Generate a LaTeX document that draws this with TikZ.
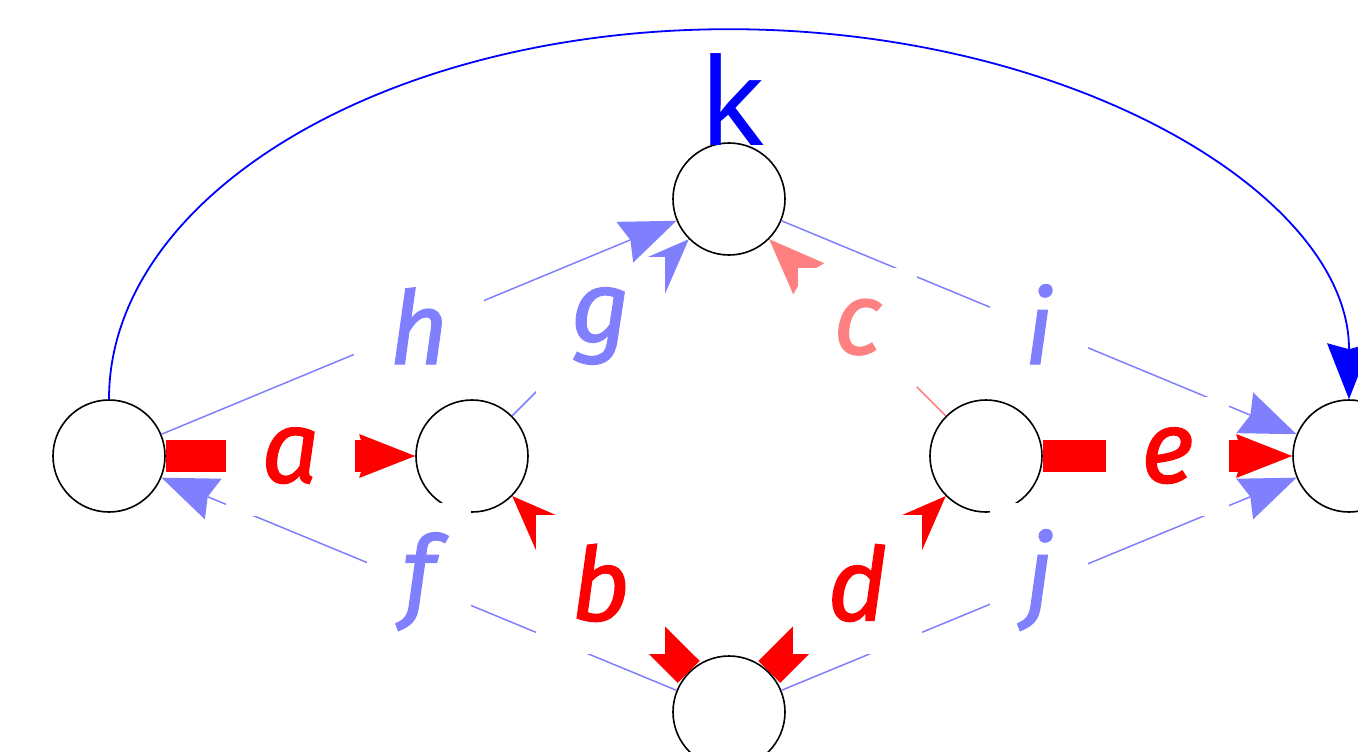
\documentclass[tikz,border=0pt]{standalone}
\usepackage{fontspec}
\setmainfont{Noto Sans}
\newfontfamily\lblfont[FakeBold=1.2]{Fira Sans}
\usetikzlibrary{arrows.meta,calc}
\definecolor{cred}{RGB}{255,0,0}
\definecolor{cpink}{RGB}{255,128,128}
\definecolor{clav}{RGB}{128,128,255}
\definecolor{cblue}{RGB}{0,0,255}
\begin{document}
\begin{tikzpicture}[x=1pt,y=-1pt,
  vtx/.style={circle,draw=black,line width=1.6pt,minimum size=112pt,inner sep=0pt},
  tipstyle/.style={-{Stealth[length=56pt,width=44pt,inset=6pt,line width=0pt]}},
  thinedge/.style={tipstyle,line width=1.5pt},
  fatedge/.style={tipstyle,line width=32pt},
  lbl/.style={fill=white,inner xsep=35pt,inner ysep=33pt,font=\lblfont\fontsize{102}{104}\selectfont\itshape},
  xh/.style={text height=53pt,text depth=0pt},
  asc/.style={text height=73pt,text depth=0pt},
  dsc/.style={text height=53pt,text depth=23pt},
  tall/.style={text height=73pt,text depth=23pt},
]
\useasboundingbox (0,0) rectangle (1358,752);
% vertices
\node[vtx] (L)  at (109,456) {};
\node[vtx] (ML) at (472,456) {};
\node[vtx] (T)  at (729,199) {};
\node[vtx] (MR) at (986,456) {};
\node[vtx] (R)  at (1349,456) {};
\node[vtx] (B)  at (729,712) {};
% edges
\draw[fatedge,cred] (L) -- (ML);
\draw[tipstyle,line width=31pt,cred] (B) -- (ML);
\draw[thinedge,cpink] (MR) -- (T);
\draw[tipstyle,line width=31pt,cred] (B) -- (MR);
\draw[fatedge,cred] (MR) -- (R);
\draw[thinedge,clav] (B) -- (L);
\draw[thinedge,clav] (ML) -- (T);
\draw[thinedge,clav] (T) -- (R);
\draw[thinedge,clav] (B) -- (R);
\draw[tipstyle,cblue,line width=1.8pt] (L.north) arc[start angle=180,end angle=360,x radius=620,y radius=370];
% labels
\node[lbl,xh,text=cred] (la) at ($(L)!0.5!(ML)$) {a};
\node[lbl,asc,text=cred] (lb) at ($(B)!0.5!(ML)$) {b};
\node[lbl,xh,text=cpink] (lc) at ($(MR)!0.5!(T)$) {c};
\node[lbl,asc,text=cred] (ld) at ($(B)!0.5!(MR)$) {d};
\node[lbl,xh,text=cred] (le) at ($(MR)!0.5!(R)$) {e};
\node[lbl,tall,text=clav] (lf) at ($(B)!0.5!(L)$) {f};
\node[lbl,dsc,text=clav] (lg) at ($(ML)!0.5!(T)$) {g};
\node[lbl,asc,text=clav] (li) at ($(T)!0.5!(R)$) {i};
\node[lbl,tall,text=clav] (lj) at ($(B)!0.5!(R)$) {j};
\draw[thinedge,clav] (L) -- (T);
\node[lbl,asc,text=clav] (lh) at ($(L)!0.5!(T)$) {h};
\node[text=cblue,font=\fontsize{121}{125}\selectfont,inner sep=0pt,text height=92pt,text depth=0pt] (lk) at (733,99) {k};
\end{tikzpicture}
\end{document}
